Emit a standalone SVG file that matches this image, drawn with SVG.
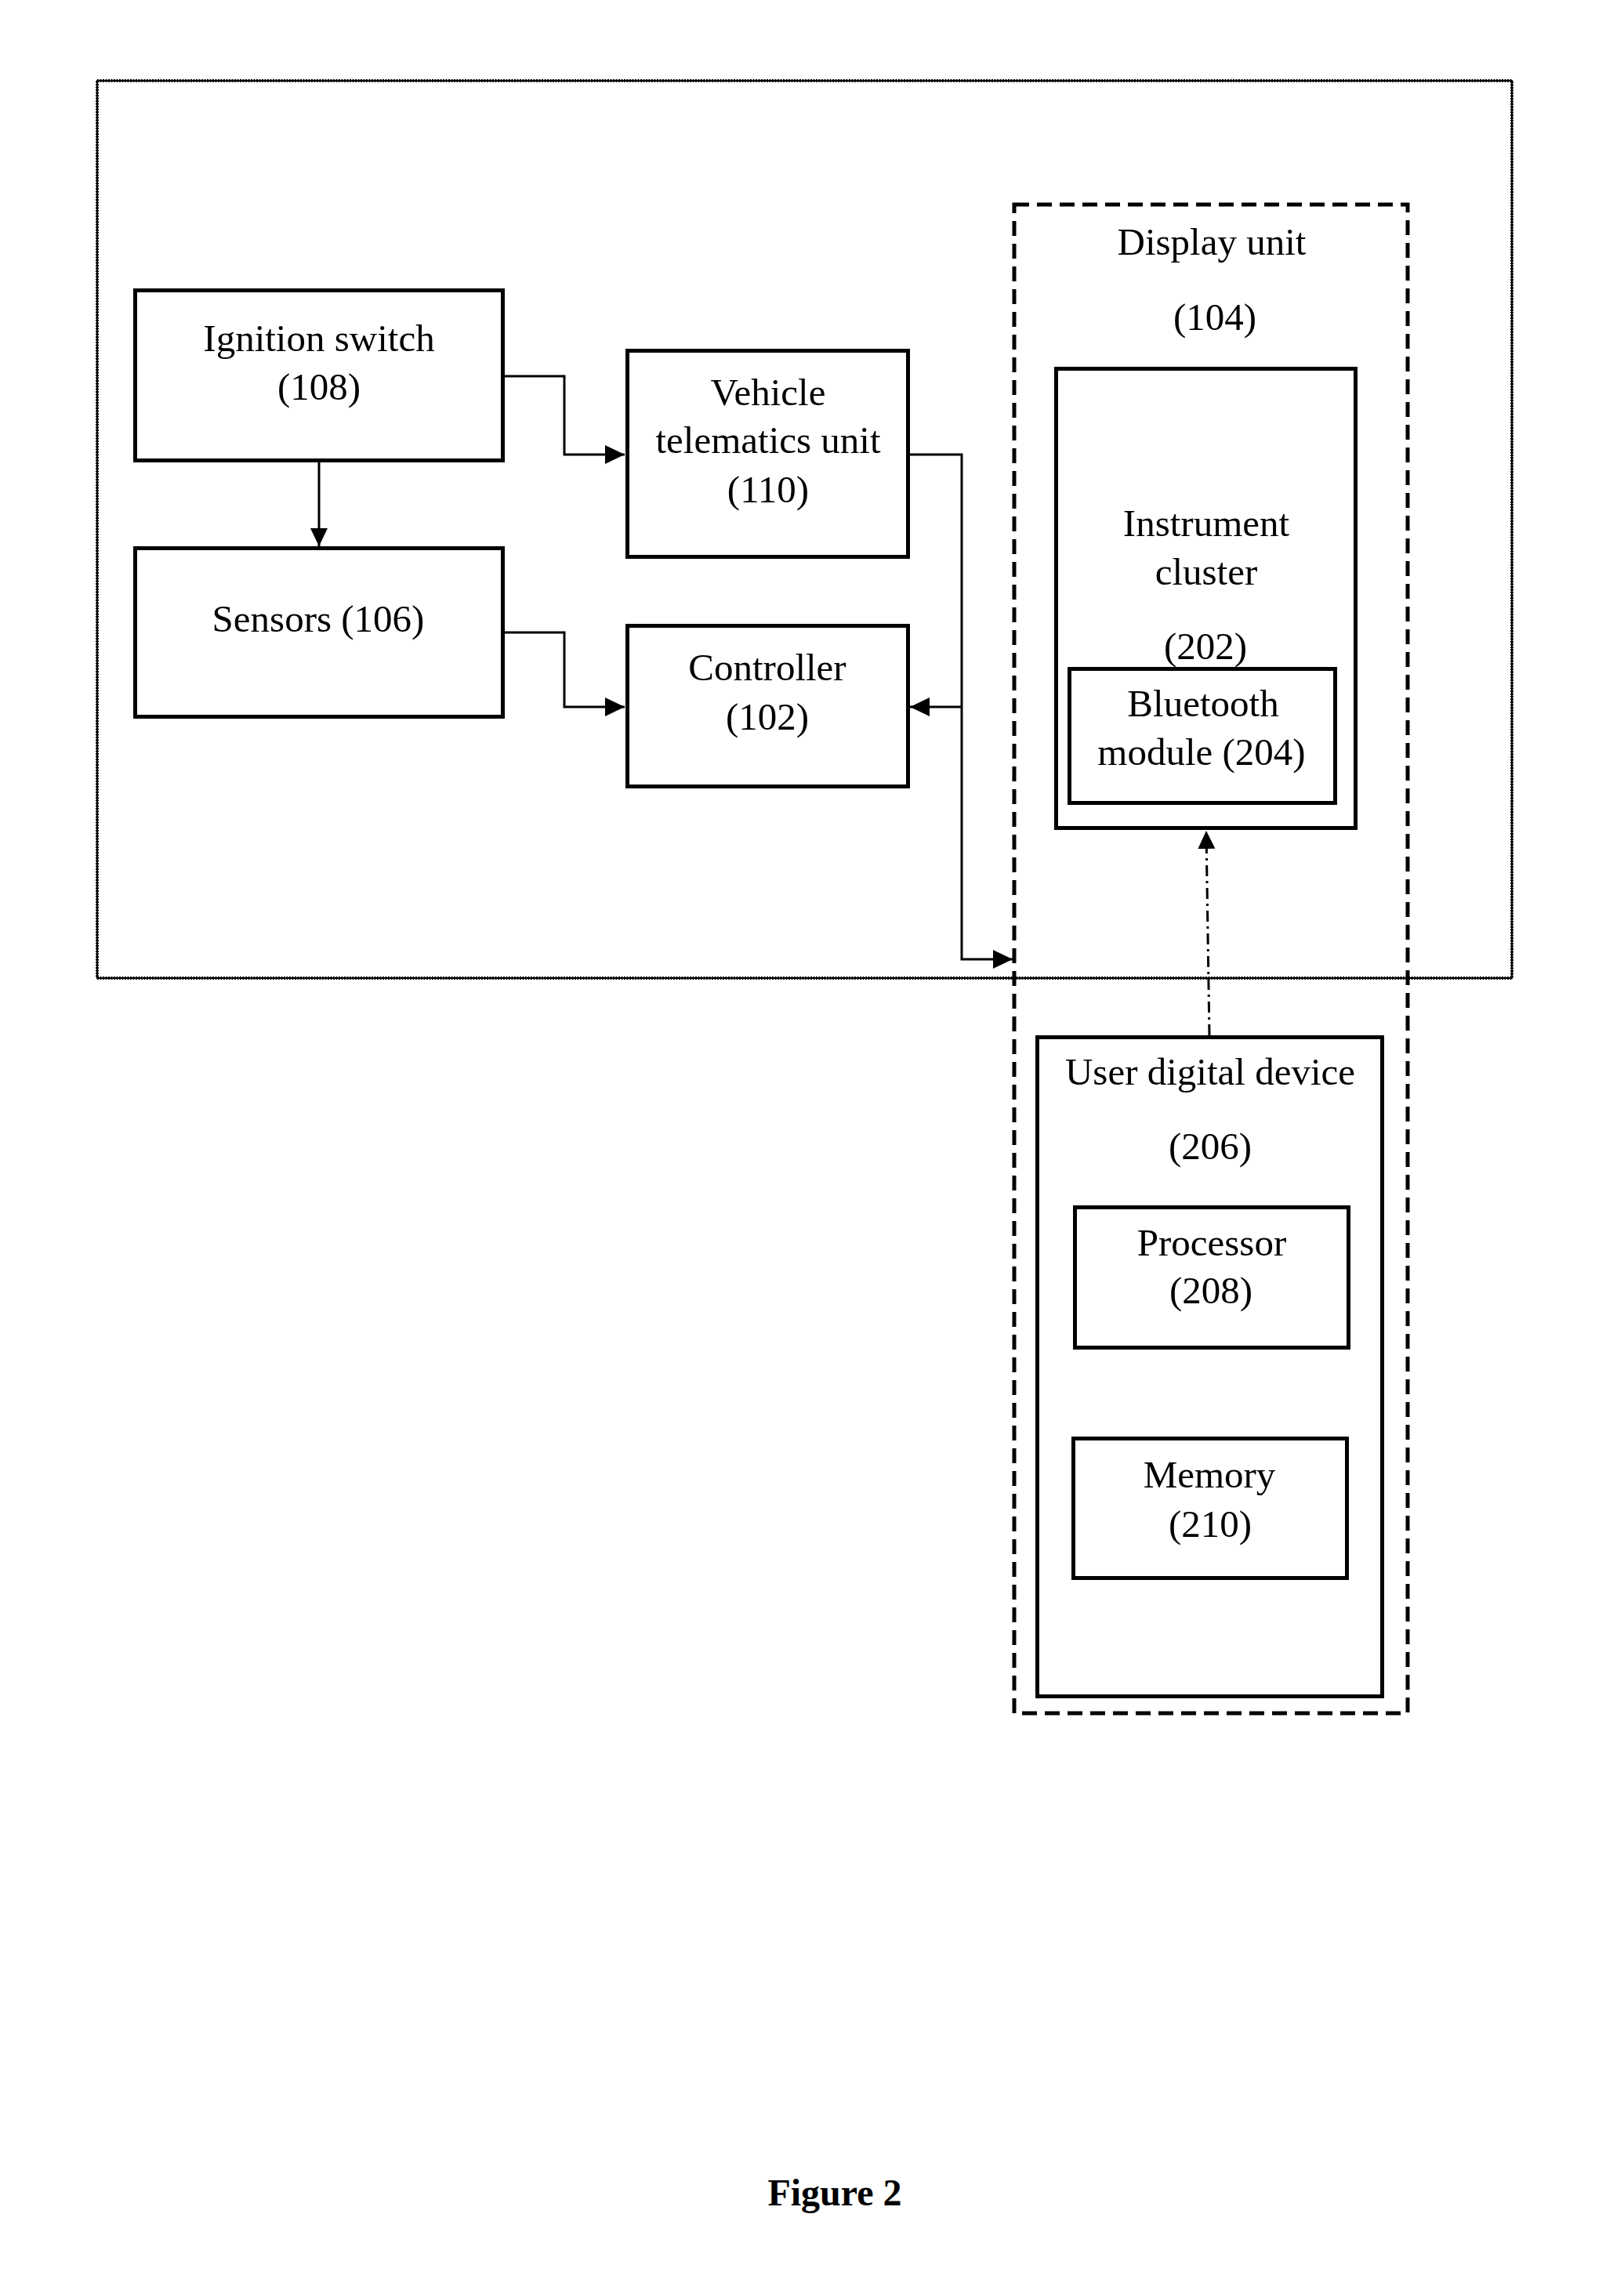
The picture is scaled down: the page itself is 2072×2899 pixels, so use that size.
<svg xmlns="http://www.w3.org/2000/svg" width="2072" height="2899" viewBox="0 0 2072 2899">
<style>
.box{fill:none;stroke:#000;stroke-width:5}
.t{font-family:"Liberation Serif","Times New Roman",serif;font-size:49px;text-anchor:middle;fill:#000}
.fig{font-family:"Liberation Serif","Times New Roman",serif;font-size:48px;font-weight:bold;text-anchor:middle;fill:#000}
.c{fill:none;stroke:#000;stroke-width:3}
</style>
<defs>
<marker id="arr" markerUnits="userSpaceOnUse" markerWidth="28" markerHeight="26" refX="25" refY="12" orient="auto">
<path d="M0,0 L25,12 L0,24 z" fill="#000"/>
</marker>
<marker id="arrs" markerUnits="userSpaceOnUse" markerWidth="26" markerHeight="26" refX="23" refY="11" orient="auto">
<path d="M0,0 L23,11 L0,22 z" fill="#000"/>
</marker>
</defs>
<rect width="2072" height="2899" fill="#fff"/>

<g id="vehicle-system">
<rect x="124" y="103" width="1805" height="1145" fill="none" stroke="#000" stroke-width="2"/>
<rect x="124" y="103" width="1805" height="1145" fill="none" stroke="#000" stroke-width="4" stroke-dasharray="2 1.5"/>
</g>

<g id="display-unit">
<rect x="1294" y="261" width="502" height="1925" fill="none" stroke="#000" stroke-width="5" stroke-dasharray="19 10"/>
<text class="t" x="1546" y="325">Display unit</text>
<text class="t" x="1550" y="421">(104)</text>
</g>

<g id="ignition-switch">
<rect class="box" x="172.5" y="370.5" width="469" height="217"/>
<text class="t" x="407" y="448">Ignition switch</text>
<text class="t" x="407" y="510">(108)</text>
</g>

<g id="sensors">
<rect class="box" x="172.5" y="699.5" width="469" height="215"/>
<text class="t" x="406" y="806">Sensors (106)</text>
</g>

<g id="vehicle-telematics-unit">
<rect class="box" x="800.5" y="447.5" width="358" height="263"/>
<text class="t" x="980" y="517">Vehicle</text>
<text class="t" x="980" y="578">telematics unit</text>
<text class="t" x="980" y="641">(110)</text>
</g>

<g id="controller">
<rect class="box" x="800.5" y="798.5" width="358" height="205"/>
<text class="t" x="979" y="868">Controller</text>
<text class="t" x="979" y="931">(102)</text>
</g>

<g id="instrument-cluster">
<rect class="box" x="1347.5" y="470.5" width="382" height="586"/>
<text class="t" x="1539" y="684">Instrument</text>
<text class="t" x="1539" y="746">cluster</text>
<text class="t" x="1538" y="841">(202)</text>
</g>

<g id="bluetooth-module">
<rect class="box" x="1364.5" y="853.5" width="339" height="171"/>
<text class="t" x="1535" y="914">Bluetooth</text>
<text class="t" x="1533" y="976">module (204)</text>
</g>

<g id="user-digital-device">
<rect class="box" x="1323.5" y="1323.5" width="440" height="841"/>
<text class="t" x="1544" y="1384">User digital device</text>
<text class="t" x="1544" y="1479">(206)</text>
</g>

<g id="processor">
<rect class="box" x="1371.5" y="1540.5" width="349" height="179"/>
<text class="t" x="1546" y="1602">Processor</text>
<text class="t" x="1545" y="1663">(208)</text>
</g>

<g id="memory">
<rect class="box" x="1369.5" y="1835.5" width="349" height="178"/>
<text class="t" x="1543" y="1898">Memory</text>
<text class="t" x="1544" y="1961">(210)</text>
</g>

<g id="connectors">
<path class="c" d="M643,480 H720 V580 H797" marker-end="url(#arr)"/>
<path class="c" d="M407,590 V697" marker-end="url(#arrs)"/>
<path class="c" d="M643,807 H720 V902 H797" marker-end="url(#arr)"/>
<path class="c" d="M1161,580 H1227 V1224 H1292" marker-end="url(#arr)"/>
<path class="c" d="M1227,902 H1161" marker-end="url(#arr)"/>
<path class="c" d="M1543,1321 L1539,1060" stroke-dasharray="14 6 3 6" marker-end="url(#arrs)"/>
</g>

<text class="fig" x="1065" y="2814">Figure 2</text>
</svg>
